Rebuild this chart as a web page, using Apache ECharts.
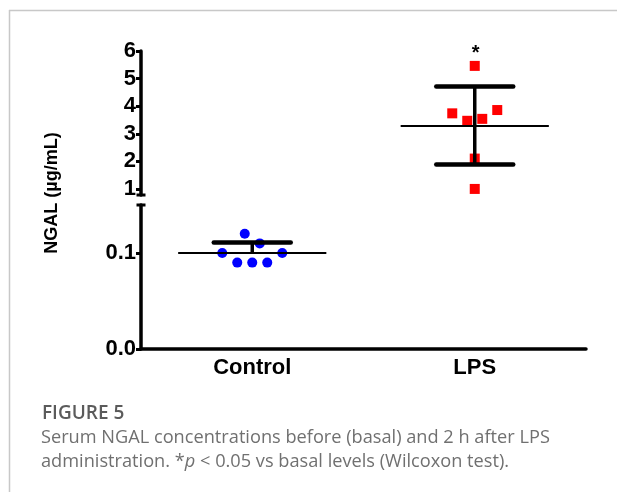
<!DOCTYPE html>
<html>
<head>
<meta charset="utf-8">
<title>Serum NGAL</title>
<script src="https://cdn.jsdelivr.net/npm/echarts@6/dist/echarts.min.js"></script>
<style>
  html, body { margin: 0; padding: 0; background: #fff; }
  #chart { width: 617px; height: 492px; }
</style>
</head>
<body>
<div id="chart"></div>
<script>
// data
const categories = ['Control', 'LPS'];
const controlValues = [0.09, 0.09, 0.09, 0.10, 0.10, 0.12, 0.11];
const lpsValues = [1.0, 2.1, 3.47, 3.54, 3.74, 3.86, 5.46];
const groupMean = [0.1, 3.28];
const errorTop = [0.111, 4.71];
const errorBottom = [null, 1.89];
const significance = ['', '*'];
const upperTicks = [1, 2, 3, 4, 5, 6];
const lowerTicks = [0, 0.1];

const FONT = '"Liberation Sans", Arial, sans-serif';
const SLOT = 7.5;
const MIN_DIST = 14;

// simple beeswarm: nearest free slot, then centre each touching cluster
function swarm(ys) {
  const xs = [];
  const parent = ys.map((_, i) => i);
  const find = i => (parent[i] === i ? i : (parent[i] = find(parent[i])));
  ys.forEach((y, i) => {
    for (let j = 0; j < i; j++) {
      if (Math.hypot(xs[j], ys[j] - y) < MIN_DIST) parent[find(i)] = find(j);
    }
    for (let k = 0; ; k++) {
      const dx = k === 0 ? 0 : (k % 2 ? 1 : -1) * Math.ceil(k / 2) * SLOT;
      let free = true;
      for (let j = 0; j < i; j++) {
        if (Math.hypot(xs[j] - dx, ys[j] - y) < MIN_DIST) { free = false; break; }
      }
      if (free) { xs[i] = dx; break; }
    }
  });
  const groups = {};
  xs.forEach((x, i) => { const r = find(i); (groups[r] = groups[r] || []).push(i); });
  Object.values(groups).forEach(g => {
    const vals = g.map(i => xs[i]);
    const mid = (Math.max(...vals) + Math.min(...vals)) / 2;
    g.forEach(i => { xs[i] -= mid; });
  });
  return xs;
}

function pointSeries(catIndex, values, shape, color, gridIndex) {
  let offsets = null;
  const top = Math.max(...values);
  return {
    type: 'custom',
    xAxisIndex: gridIndex,
    yAxisIndex: gridIndex,
    z: 2,
    data: values.map(v => [catIndex, v]),
    encode: { x: 0, y: 1 },
    renderItem(params, api) {
      if (!offsets || params.dataIndexInside === 0) {
        offsets = swarm(values.map(v => api.coord([catIndex, v])[1]));
      }
      const v = api.value(1);
      const c = api.coord([catIndex, v]);
      const x = c[0] + offsets[params.dataIndex];
      const children = [];
      if (shape === 'circle') {
        children.push({ type: 'circle', shape: { cx: x, cy: c[1], r: 5 }, style: { fill: color } });
      } else {
        children.push({ type: 'rect', shape: { x: x - 5, y: c[1] - 5, width: 10, height: 10 }, style: { fill: color } });
      }
      if (v === top && significance[catIndex]) {
        children.push({
          type: 'text',
          style: {
            text: significance[catIndex], x: x + 1, y: c[1] - 12,
            font: 'bold 20px ' + FONT, fill: '#000', align: 'center', verticalAlign: 'middle'
          }
        });
      }
      return { type: 'group', children };
    }
  };
}

function summarySeries(catIndex, gridIndex) {
  return {
    type: 'custom',
    xAxisIndex: gridIndex,
    yAxisIndex: gridIndex,
    z: 3,
    data: [[catIndex, groupMean[catIndex]]],
    encode: { x: 0, y: 1 },
    renderItem(params, api) {
      const band = api.size([1, 0])[0];
      const c = api.coord([catIndex, groupMean[catIndex]]);
      const half = band * 0.333;
      const cap = band * 0.173;
      const children = [{
        type: 'line',
        shape: { x1: c[0] - half, y1: c[1], x2: c[0] + half, y2: c[1] },
        style: { stroke: '#000', lineWidth: 2 }
      }];
      [errorTop[catIndex], errorBottom[catIndex]].forEach(e => {
        if (e == null) return;
        const y = api.coord([catIndex, e])[1];
        children.push({
          type: 'line',
          shape: { x1: c[0], y1: c[1], x2: c[0], y2: y },
          style: { stroke: '#000', lineWidth: 3.5 }
        });
        children.push({
          type: 'line',
          shape: { x1: c[0] - cap, y1: y, x2: c[0] + cap, y2: y },
          style: { stroke: '#000', lineWidth: 4.5, lineCap: 'round' }
        });
      });
      return { type: 'group', children };
    }
  };
}

const chart = echarts.init(document.getElementById('chart'));

const tickLabel = { fontFamily: FONT, fontWeight: 'bold', fontSize: 22, color: '#000' };

chart.setOption({
  backgroundColor: '#fff',
  animation: false,
  grid: [
    { left: 141, right: 31, top: 51, height: 144 },
    { left: 141, right: 31, top: 205, height: 144 }
  ],
  xAxis: [
    { type: 'category', gridIndex: 0, data: categories, show: false },
    {
      type: 'category', gridIndex: 1, data: categories,
      axisLine: { lineStyle: { color: '#000', width: 3.5 } },
      axisTick: { alignWithLabel: true, length: 6, lineStyle: { color: '#000', width: 3 } },
      axisLabel: Object.assign({ margin: 8 }, tickLabel),
      splitLine: { show: false }
    }
  ],
  yAxis: [
    {
      type: 'value', gridIndex: 0, min: 0.78, max: 6,
      axisLine: {
        show: true, lineStyle: { color: '#000', width: 3.5 },
        symbol: ['rect', 'none'], symbolSize: [9, 3]
      },
      axisTick: { show: true, length: 5, customValues: upperTicks, lineStyle: { color: '#000', width: 3 } },
      axisLabel: Object.assign({ margin: 5, customValues: upperTicks }, tickLabel),
      splitLine: { show: false }
    },
    {
      type: 'value', gridIndex: 1, min: 0, max: 0.15,
      axisLine: {
        show: true, lineStyle: { color: '#000', width: 3.5 },
        symbol: ['none', 'rect'], symbolSize: [9, 3]
      },
      axisTick: { show: true, length: 5, customValues: lowerTicks, lineStyle: { color: '#000', width: 3 } },
      axisLabel: Object.assign({ margin: 5, customValues: lowerTicks, formatter: v => v.toFixed(1) }, tickLabel),
      splitLine: { show: false }
    }
  ],
  series: [
    pointSeries(0, controlValues, 'circle', '#0000ff', 1),
    pointSeries(1, lpsValues, 'rect', '#ff0000', 0),
    summarySeries(0, 1),
    summarySeries(1, 0)
  ],
  graphic: [
    { type: 'line', shape: { x1: 9, y1: 10.5, x2: 617, y2: 10.5 }, style: { stroke: '#c8c8c8', lineWidth: 1.5 } },
    { type: 'line', shape: { x1: 9.5, y1: 10, x2: 9.5, y2: 492 }, style: { stroke: '#c8c8c8', lineWidth: 1.5 } },
    {
      type: 'text', x: 52, y: 193, rotation: Math.PI / 2,
      style: {
        text: 'NGAL (µg/mL)', font: 'bold 18px ' + FONT, fill: '#000',
        align: 'center', verticalAlign: 'middle'
      }
    },
    {
      type: 'text', x: 42, y: 414,
      style: {
        text: 'FIGURE 5', font: '600 19px "Open Sans", sans-serif', fill: '#5b5b5b',
        verticalAlign: 'middle'
      }
    },
    {
      type: 'text', x: 41, y: 438,
      style: {
        text: 'Serum NGAL concentrations before (basal) and 2 h after LPS',
        font: '18.2px "Open Sans", sans-serif', fill: '#707070', verticalAlign: 'middle'
      }
    },
    {
      type: 'text', x: 41, y: 462,
      style: {
        text: 'administration. *{it|p} < 0.05 vs basal levels (Wilcoxon test).',
        font: '18.2px "Open Sans", sans-serif', fill: '#707070', verticalAlign: 'middle',
        rich: { it: { fontStyle: 'italic', fontFamily: 'Open Sans', fontSize: 18.2, fill: '#707070' } }
      }
    }
  ]
});
</script>
</body>
</html>
